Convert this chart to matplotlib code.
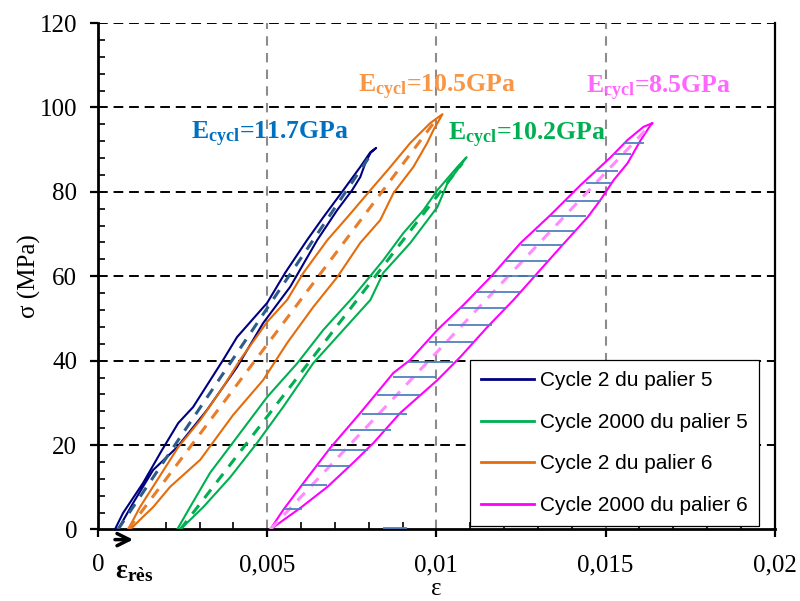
import matplotlib
matplotlib.use('Agg')
import matplotlib.pyplot as plt
import numpy as np
from matplotlib.ticker import MultipleLocator

plt.rcParams['font.family'] = ['Liberation Serif', 'DejaVu Serif']
plt.rcParams['mathtext.fontset'] = 'custom'
plt.rcParams['mathtext.rm'] = 'Liberation Serif'
plt.rcParams['mathtext.bf'] = 'Liberation Serif:bold'
plt.rcParams['mathtext.it'] = 'Liberation Serif:italic'

# --- cycle 2 du palier 5 (left / right branch of the loop, bottom -> top)
p5c2_left_x = [0.00050, 0.00074, 0.00133, 0.00189, 0.00237, 0.00281, 0.00370, 0.00411,
               0.00500, 0.00553, 0.00618, 0.00666, 0.00725, 0.00775, 0.00805, 0.00822]
p5c2_left_y = [0.0, 3.9, 11.0, 18.8, 25.2, 29.0, 40.2, 45.6,
               53.7, 60.8, 68.6, 74.0, 80.4, 85.9, 89.4, 90.4]
p5c2_right_x = [0.00059, 0.00104, 0.00163, 0.00234, 0.00322, 0.00411, 0.00488, 0.00568,
                0.00648, 0.00707, 0.00751, 0.00775, 0.00790, 0.00805, 0.00822]
p5c2_right_y = [0.0, 6.3, 14.1, 19.5, 28.3, 38.5, 48.9, 57.5,
                68.6, 75.7, 80.4, 83.5, 86.8, 89.2, 90.4]
p5c2_sec_x = [0.00059, 0.00811]
p5c2_sec_y = [0.0, 89.4]

# --- cycle 2000 du palier 5
p5c2000_left_x = [0.00234, 0.00272, 0.00331, 0.00411, 0.00500, 0.00589, 0.00666, 0.00754,
                  0.00843, 0.00902, 0.00962, 0.01003, 0.01062, 0.01089]
p5c2000_left_y = [0.0, 5.3, 13.4, 21.9, 31.4, 39.4, 47.3, 55.1,
                  63.8, 70.2, 75.7, 80.4, 85.9, 88.2]
p5c2000_right_x = [0.00243, 0.00311, 0.00391, 0.00470, 0.00547, 0.00636, 0.00725, 0.00805,
                   0.00843, 0.00923, 0.01003, 0.01033, 0.01062, 0.01089]
p5c2000_right_y = [0.0, 5.3, 12.4, 20.5, 29.0, 39.4, 47.3, 54.4,
                   60.8, 67.9, 76.4, 82.1, 85.2, 88.2]
p5c2000_sec_x = [0.00243, 0.01077]
p5c2000_sec_y = [0.0, 86.8]

# --- cycle 2 du palier 6
p6c2_left_x = [0.00089, 0.00124, 0.00175, 0.00237, 0.00302, 0.00370, 0.00420, 0.00500, 0.00559,
               0.00607, 0.00678, 0.00737, 0.00805, 0.00864, 0.00923, 0.00982, 0.01018]
p6c2_left_y = [0.0, 5.3, 11.7, 19.5, 25.9, 33.8, 40.2, 49.2, 54.4,
               60.8, 68.6, 74.0, 80.4, 85.9, 91.6, 96.3, 98.4]
p6c2_right_x = [0.00095, 0.00133, 0.00163, 0.00213, 0.00302, 0.00399, 0.00488, 0.00559, 0.00636,
                0.00707, 0.00775, 0.00834, 0.00873, 0.00932, 0.00973, 0.00991, 0.01018]
p6c2_right_y = [0.0, 3.0, 5.3, 10.1, 16.5, 27.1, 35.4, 44.2, 52.7,
                59.8, 67.9, 73.3, 79.7, 85.9, 91.6, 94.6, 98.4]
p6c2_sec_x = [0.00089, 0.01003]
p6c2_sec_y = [0.0, 97.5]

# --- cycle 2000 du palier 6
p6c2000_left_x = [0.00509, 0.00547, 0.00607, 0.00686, 0.00775, 0.00873, 0.00923, 0.01003, 0.01080,
                  0.01160, 0.01249, 0.01337, 0.01426, 0.01515, 0.01565, 0.01612, 0.01639]
p6c2000_left_y = [0.0, 4.6, 11.0, 19.3, 27.6, 37.1, 40.2, 47.3, 53.2,
                  59.8, 67.9, 74.5, 81.6, 88.2, 92.3, 95.4, 96.3]
p6c2000_right_x = [0.00509, 0.00598, 0.00678, 0.00754, 0.00814, 0.00893, 0.01003, 0.01071, 0.01151,
                   0.01228, 0.01299, 0.01367, 0.01447, 0.01485, 0.01524, 0.01565, 0.01604, 0.01633,
                   0.01639]
p6c2000_right_y = [0.0, 5.1, 10.1, 15.8, 20.5, 27.6, 35.4, 40.9, 48.0,
                   54.4, 60.8, 66.9, 74.0, 78.1, 82.8, 86.8, 92.3, 95.8,
                   96.3]
p6c2000_sec_x = [0.00509, 0.01627]
p6c2000_sec_y = [0.0, 95.4]

# hatching inside the last loop (dissipated energy)
hatch_y = [91.6, 89.0, 84.9, 82.1, 77.8, 74.3, 70.7, 67.4, 63.6, 60.1, 56.3, 52.5,
           48.5, 44.5, 39.7, 36.1, 31.9, 27.4, 23.6, 18.8, 15.0, 10.5, 4.9, 0.3]
hatch_x0 = [0.01553, 0.01521, 0.01470, 0.01441, 0.01382, 0.01337, 0.01293, 0.01249,
            0.01207, 0.01166, 0.01115, 0.01071, 0.01033, 0.00979, 0.00914, 0.00873,
            0.00825, 0.00781, 0.00746, 0.00680, 0.00651, 0.00604, 0.00550, 0.00843]
hatch_x1 = [0.01612, 0.01574, 0.01536, 0.01515, 0.01485, 0.01441, 0.01414, 0.01373,
            0.01328, 0.01299, 0.01246, 0.01204, 0.01163, 0.01109, 0.01050, 0.01000,
            0.00953, 0.00914, 0.00867, 0.00799, 0.00743, 0.00678, 0.00604, 0.00914]

labels = ['Cycle 2 du palier 5', 'Cycle 2000 du palier 5',
          'Cycle 2 du palier 6', 'Cycle 2000 du palier 6']
ecycl_text = ['11.7', '10.2', '10.5', '8.5']
ecycl_pos = [(0.00509, 93.5), (0.01269, 93.3), (0.01003, 104.8), (0.01657, 104.6)]

xticks = [0, 0.005, 0.01, 0.015, 0.02]
xtick_labels = ['0', '0,005', '0,01', '0,015', '0,02']
yticks = [0, 20, 40, 60, 80, 100, 120]


def loop(lx, ly, rx, ry):
    return (np.concatenate([lx, rx[::-1]]), np.concatenate([ly, ry[::-1]]))


fig = plt.figure(figsize=(8, 6.01), dpi=100)
ax = fig.add_axes([0.1225, 0.119, 0.846, 0.8427])

# grid
for y in yticks[1:]:
    ax.axhline(y, color='black', lw=1.4, dashes=(5, 3), zorder=1)
for x in xticks[1:-1]:
    ax.axvline(x, color='#8c8c8c', lw=1.5, dashes=(4.5, 3.5), zorder=1)

series = [
    (p5c2_left_x, p5c2_left_y, p5c2_right_x, p5c2_right_y, p5c2_sec_x, p5c2_sec_y, '#000080', '#2E5C8A'),
    (p5c2000_left_x, p5c2000_left_y, p5c2000_right_x, p5c2000_right_y, p5c2000_sec_x, p5c2000_sec_y, '#00B050', '#00B050'),
    (p6c2_left_x, p6c2_left_y, p6c2_right_x, p6c2_right_y, p6c2_sec_x, p6c2_sec_y, '#E46C0A', '#E87D2A'),
    (p6c2000_left_x, p6c2000_left_y, p6c2000_right_x, p6c2000_right_y, p6c2000_sec_x, p6c2000_sec_y, '#FF00FF', '#FF8CFF'),
]
handles = []
for (lx, ly, rx, ry, sx, sy, col, scol), lab in zip(series, labels):
    x, y = loop(np.array(lx), np.array(ly), np.array(rx), np.array(ry))
    h, = ax.plot(x, y, color=col, lw=1.5, label=lab, zorder=3)
    ax.plot(sx, sy, color=scol, lw=2.2, dashes=(3.5, 3), zorder=3)
    handles.append(h)

ax.hlines(hatch_y, hatch_x0, hatch_x1, color='#4F81BD', lw=1.3, zorder=4)

# E_cycl labels
ecycl_colors = ['#0070C0', '#00B050', '#F79646', '#FF66FF']
for txt, (x, y), col in zip(ecycl_text, ecycl_pos, ecycl_colors):
    ax.text(x, y, r'E$_{\mathbf{cycl}}$=' + txt + 'GPa', color=col, fontsize=18.5,
            fontweight='bold', ha='center', va='center', zorder=5)

ax.set_xlim(0, 0.02)
ax.set_ylim(0, 120)
ax.set_xticks(xticks)
ax.set_xticklabels(xtick_labels)
ax.set_yticks(yticks)
ax.xaxis.set_minor_locator(MultipleLocator(0.001))
ax.yaxis.set_minor_locator(MultipleLocator(4))
ax.tick_params(axis='both', which='major', labelsize=18, color='black')
ax.tick_params(axis='x', which='major', direction='out', length=6, width=1.6, pad=12)
ax.tick_params(axis='y', which='major', direction='out', length=6, width=1.6, pad=9)
ax.tick_params(axis='both', which='minor', direction='in', length=5, width=1.2)

ax.spines['top'].set_visible(False)
for s in ['left', 'bottom']:
    ax.spines[s].set_linewidth(2.0)
ax.spines['right'].set_linewidth(1.6)

ax.set_ylabel('σ (MPa)', fontsize=18, labelpad=-1)
fig.text(436 / 800, 1 - 600 / 601, 'ε', fontsize=18, ha='center', va='bottom')

# residual strain arrow
ax.annotate('', xy=(0.00112, -2.4), xytext=(0.00042, -2.4),
            arrowprops=dict(arrowstyle='->', lw=2.5, color='black', mutation_scale=22),
            annotation_clip=False)
ax.text(0.00050, -10.0, r'$\mathbf{\varepsilon_{r\`es}}$', fontsize=20, ha='left', va='center',
        clip_on=False)

leg = ax.legend(handles=handles, loc='upper left', bbox_to_anchor=(470 / 800, 1 - 360 / 601),
                bbox_transform=fig.transFigure, borderaxespad=0, frameon=True, fancybox=False,
                edgecolor='black', framealpha=1, handlelength=2.5, labelspacing=1.08,
                borderpad=0.55, handletextpad=0.3,
                prop={'family': 'Liberation Sans', 'size': 15})
leg.get_frame().set_linewidth(0.9)
for line in leg.get_lines():
    line.set_linewidth(2.0)

fig.savefig('out.png', dpi=100)
